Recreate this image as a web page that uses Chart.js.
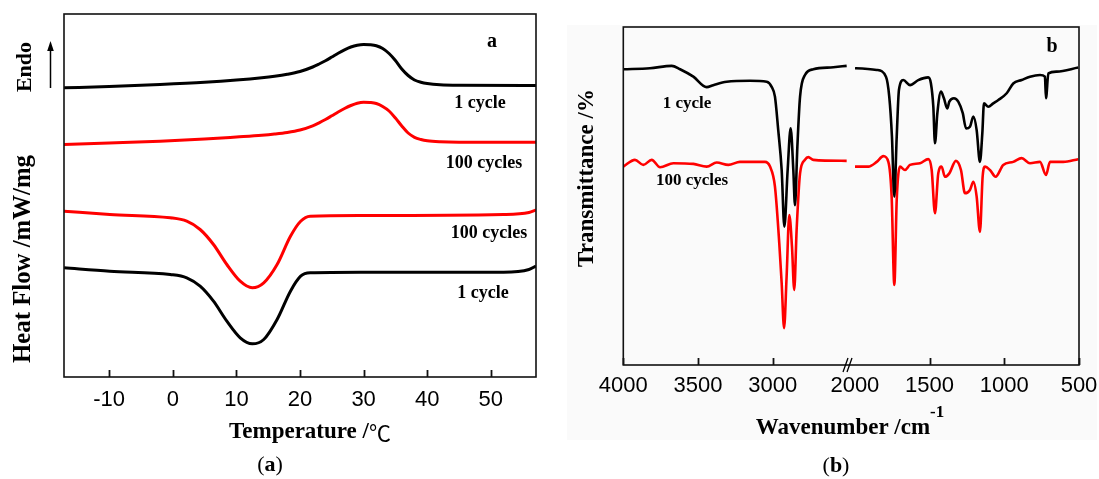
<!DOCTYPE html>
<html>
<head>
<meta charset="utf-8">
<script src="https://cdn.jsdelivr.net/npm/chart.js@4.4.1/dist/chart.umd.min.js"></script>
<style>
  html, body { margin: 0; padding: 0; background: #fff; }
  #wrap { position: relative; width: 1099px; height: 479px; overflow: hidden; }
  canvas { position: absolute; top: 0; }
  #dsc { left: 0; }
  #ftir { left: 560px; }
</style>
</head>
<body>
<div id="wrap">
  <canvas id="dsc" width="560" height="479"></canvas>
  <canvas id="ftir" width="539" height="479"></canvas>
</div>
<script>
// (a) DSC curves, heat flow in arbitrary offset units
const dscTicks = [-10, 0, 10, 20, 30, 40, 50];

const tempHeat = [-17.1, -10, -2, 5, 10, 14, 16, 18, 20, 22, 23, 24, 25, 26, 27, 28, 29, 30, 31, 32, 33, 34, 35, 36, 37, 38, 39, 40, 42, 45, 57.1];
const flowHeat1 = [28.92, 29.05, 29.25, 29.47, 29.69, 29.92, 30.07, 30.27, 30.55, 31.0, 31.3, 31.63, 32.0, 32.38, 32.72, 33.0, 33.18, 33.25, 33.22, 33.12, 32.85, 32.35, 31.65, 30.8, 30.15, 29.7, 29.48, 29.35, 29.22, 29.17, 29.15];
const flowHeat100 = [23.25, 23.4, 23.58, 23.8, 24.0, 24.17, 24.29, 24.45, 24.7, 25.12, 25.42, 25.75, 26.12, 26.5, 26.85, 27.15, 27.38, 27.48, 27.45, 27.35, 27.05, 26.6, 25.9, 25.1, 24.4, 23.97, 23.75, 23.62, 23.52, 23.48, 23.48];

const tempCool = [-17.1, -9.9, -0.4, 2.2, 4.3, 6.4, 8.5, 10.6, 12.5, 14.3, 16.4, 18.5, 20.1, 21.6, 29.5, 52, 56, 57.1];
const flowCool100 = [16.58, 16.25, 15.92, 15.58, 14.75, 13.25, 11.25, 9.58, 8.92, 9.42, 11.25, 14.08, 15.58, 16.08, 16.15, 16.25, 16.45, 16.7];
const flowCool1 = [10.92, 10.58, 10.25, 9.92, 9.08, 7.58, 5.58, 3.92, 3.32, 3.75, 5.75, 8.58, 10.08, 10.42, 10.48, 10.48, 10.75, 11.1];

// (b) FTIR spectra, split at the axis break (2500-2000 cm-1 is cut out)
const ftirTicks = [4000, 3500, 3000, 2000, 1500, 1000, 500];

const waveHigh1 = [4000, 3822, 3676, 3620, 3531, 3442, 3398, 3308, 3152, 3040, 3007, 2985, 2963, 2940, 2922, 2900, 2880, 2862, 2851, 2835, 2817, 2784, 2728, 2594, 2505];
const transHigh1 = [87.5, 87.8, 88.5, 87.5, 85.3, 82.2, 82.8, 83.8, 84.1, 83.8, 82.3, 79.4, 69.5, 57.7, 40.9, 57.7, 70.0, 57.7, 47.3, 64.6, 79.4, 85.8, 87.5, 88.1, 88.5];
const waveLow1 = [1999, 1854, 1792, 1770, 1752, 1736, 1720, 1705, 1676, 1631, 1576, 1509, 1491, 1475, 1464, 1448, 1424, 1404, 1382, 1368, 1337, 1308, 1278, 1256, 1230, 1207, 1185, 1163, 1147, 1136, 1107, 1074, 1040, 984, 940, 884, 828, 761, 728, 721, 705, 649, 505];
const transLow1 = [87.8, 87.3, 85.3, 79.4, 67.6, 49.8, 67.6, 81.4, 84.3, 82.8, 84.3, 85.1, 83.3, 76.4, 65.6, 74.5, 80.9, 78.9, 75.9, 77.9, 78.9, 77.9, 74.5, 70.0, 70.5, 73.5, 69.5, 60.1, 68.6, 77.4, 76.4, 77.4, 78.4, 80.4, 83.3, 84.3, 85.3, 85.8, 85.3, 78.9, 86.3, 86.8, 88.0];

const waveHigh100 = [4000, 3922, 3866, 3810, 3754, 3665, 3531, 3442, 3375, 3297, 3219, 3052, 3018, 2985, 2956, 2940, 2924, 2907, 2889, 2871, 2856, 2840, 2817, 2784, 2762, 2728, 2505];
const transHigh100 = [58.7, 60.7, 59.2, 60.7, 58.5, 59.7, 59.5, 58.7, 59.9, 59.2, 60.1, 60.1, 58.7, 52.8, 36.0, 24.2, 10.9, 26.1, 44.4, 35.0, 22.2, 39.9, 56.7, 60.7, 61.5, 60.7, 60.4];
const waveLow100 = [1999, 1910, 1854, 1810, 1776, 1754, 1736, 1720, 1698, 1665, 1631, 1564, 1509, 1486, 1464, 1442, 1420, 1397, 1368, 1324, 1290, 1263, 1230, 1207, 1185, 1163, 1145, 1129, 1096, 1058, 1007, 940, 884, 828, 761, 721, 694, 605, 505];
const transLow100 = [58.7, 58.7, 60.1, 61.8, 60.1, 49.8, 23.7, 48.8, 58.7, 57.7, 59.2, 59.7, 60.9, 57.7, 44.9, 56.7, 58.7, 55.7, 56.7, 60.4, 57.7, 50.8, 51.8, 54.2, 49.8, 39.4, 55.7, 58.7, 57.7, 55.7, 59.2, 60.1, 61.2, 59.7, 60.1, 56.2, 60.1, 60.1, 60.9];

const SERIF = '"Liberation Serif", "Times New Roman", serif';
const SANS = '"Liberation Sans", Arial, sans-serif';
const CJK = '"Noto Sans CJK SC", "Noto Sans CJK JP", sans-serif';
const RED = '#ff0000';

// wavenumbers above the break slide left by CUT so 2500 sits next to 2000
const CUT = 450;
const axisPos = w => (w >= 2500 ? w - CUT : w);

const pts = (xs, ys) => xs.map((x, i) => ({ x, y: ys[i] }));
const spectrum = (wh, th, wl, tl) =>
  pts(wh.map(axisPos), th).concat([{ x: 2025, y: null }], pts(wl, tl));

const bold = size => `bold ${size}px ${SERIF}`;
const TICK_LEN = 7;

function text(ctx, str, x, y, font, maxWidth) {
  ctx.font = font;
  ctx.textAlign = 'center';
  ctx.textBaseline = 'middle';
  if (maxWidth) ctx.fillText(str, x, y, maxWidth);
  else ctx.fillText(str, x, y);
}

function vtext(ctx, str, x, y, font, maxWidth) {
  ctx.save();
  ctx.translate(x, y);
  ctx.rotate(-Math.PI / 2);
  text(ctx, str, 0, 0, font, maxWidth);
  ctx.restore();
}

// centred run of differently styled pieces: [[text, font, dy], ...]
function runs(ctx, parts, cx, cy) {
  ctx.textAlign = 'left';
  ctx.textBaseline = 'middle';
  const widths = parts.map(([s, f]) => { ctx.font = f; return ctx.measureText(s).width; });
  let x = cx - widths.reduce((a, b) => a + b, 0) / 2;
  parts.forEach(([s, f, dy], i) => {
    ctx.font = f;
    ctx.fillText(s, x, cy + (dy || 0));
    x += widths[i];
  });
}

function caption(ctx, letter, cx, cy) {
  const plain = `22px ${SERIF}`;
  runs(ctx, [['(', plain], [letter, bold(22)], [')', plain]], cx, cy);
}

// box around the plot plus inward tick marks on the bottom axis
function drawFrame(chart, tickValues) {
  const { ctx, chartArea: a } = chart;
  const x = chart.scales.x;
  ctx.save();
  ctx.strokeStyle = '#111';
  ctx.lineWidth = 1.6;
  ctx.strokeRect(a.left, a.top, a.right - a.left, a.bottom - a.top);
  ctx.lineWidth = 1.8;
  tickValues.forEach(v => {
    const px = Math.round(x.getPixelForValue(v)) + 0.5;
    ctx.beginPath();
    ctx.moveTo(px, a.bottom);
    ctx.lineTo(px, a.bottom - TICK_LEN);
    ctx.stroke();
  });
  ctx.restore();
}

const dscNotes = {
  id: 'dscNotes',
  afterDraw(chart) {
    const ctx = chart.ctx;
    drawFrame(chart, dscTicks);
    ctx.save();
    ctx.fillStyle = '#000';
    text(ctx, 'a', 492, 42, bold(20));
    text(ctx, '1 cycle', 480, 103, bold(18));
    text(ctx, '100 cycles', 484, 163, bold(18));
    text(ctx, '100 cycles', 489, 233, bold(18));
    text(ctx, '1 cycle', 483, 293, bold(18));
    vtext(ctx, 'Endo', 25, 67, bold(22));
    vtext(ctx, 'Heat Flow /mW/mg', 24, 259, bold(25), 208);
    // Endo arrow
    ctx.strokeStyle = '#000';
    ctx.lineWidth = 1.5;
    ctx.beginPath(); ctx.moveTo(50.5, 88); ctx.lineTo(50.5, 48); ctx.stroke();
    ctx.beginPath(); ctx.moveTo(50.5, 41); ctx.lineTo(47.2, 51); ctx.lineTo(53.8, 51); ctx.closePath(); ctx.fill();
    runs(ctx, [['Temperature /', bold(23)], ['℃', `22px ${CJK}`, 1]], 310, 432);
    caption(ctx, 'a', 270, 465);
    ctx.restore();
  }
};

const ftirNotes = {
  id: 'ftirNotes',
  beforeDraw(chart) {
    const ctx = chart.ctx;
    ctx.save();
    ctx.fillStyle = '#fafafa';
    ctx.fillRect(7, 25, 530, 415);
    ctx.restore();
  },
  afterDraw(chart) {
    const ctx = chart.ctx;
    const a = chart.chartArea;
    // no tick at the break itself
    drawFrame(chart, ftirTicks.filter(w => w !== 2000).map(axisPos));
    ctx.save();
    ctx.fillStyle = '#000';
    text(ctx, 'b', 492, 47, bold(20));
    text(ctx, '1 cycle', 127, 104, bold(17));
    text(ctx, '100 cycles', 132, 181, bold(17));
    vtext(ctx, 'Transmittance /%', 27, 178, bold(23));
    runs(ctx, [['Wavenumber /cm', bold(23)], ['-1', bold(17), -15]], 290, 428);
    caption(ctx, 'b', 276, 466);
    // axis break marks
    ctx.strokeStyle = '#000';
    ctx.lineWidth = 1.3;
    ctx.beginPath();
    ctx.moveTo(283, a.bottom + 7); ctx.lineTo(288, a.bottom - 7);
    ctx.moveTo(287, a.bottom + 7); ctx.lineTo(292, a.bottom - 7);
    ctx.stroke();
    ctx.restore();
  }
};

const line = (data, color) => ({ data, borderColor: color, backgroundColor: color, fill: false });

const noPad = s => { s.paddingLeft = 0; s.paddingRight = 0; };

const baseOptions = {
  responsive: false,
  animation: false,
  devicePixelRatio: 1,
  events: []
};

new Chart(document.getElementById('dsc'), {
  type: 'line',
  data: {
    datasets: [
      line(pts(tempHeat, flowHeat1), '#000'),
      line(pts(tempCool, flowCool1), '#000'),
      line(pts(tempHeat, flowHeat100), RED),
      line(pts(tempCool, flowCool100), RED)
    ]
  },
  options: {
    ...baseOptions,
    elements: {
      point: { radius: 0, hoverRadius: 0 },
      line: { borderWidth: 3, cubicInterpolationMode: 'monotone' }
    },
    layout: { padding: { top: 14, right: 24, left: 0, bottom: 0 } },
    plugins: { legend: { display: false }, tooltip: { enabled: false } },
    scales: {
      x: {
        type: 'linear', min: -17.1, max: 57.1,
        afterBuildTicks: s => { s.ticks = dscTicks.map(v => ({ value: v })); },
        afterFit: s => { s.height = 102; noPad(s); },
        grid: { display: false, drawTicks: false },
        border: { display: false },
        ticks: { font: { family: SANS, size: 22 }, color: '#000', padding: 10, maxRotation: 0, autoSkip: false }
      },
      y: {
        min: 0, max: 36.3,
        afterFit: s => { s.width = 64; },
        grid: { display: false, drawTicks: false },
        border: { display: false },
        ticks: { display: false }
      }
    }
  },
  plugins: [dscNotes]
});

new Chart(document.getElementById('ftir'), {
  type: 'line',
  data: {
    datasets: [
      line(spectrum(waveHigh1, transHigh1, waveLow1, transLow1), '#000'),
      line(spectrum(waveHigh100, transHigh100, waveLow100, transLow100), RED)
    ]
  },
  options: {
    ...baseOptions,
    elements: {
      point: { radius: 0, hoverRadius: 0 },
      line: { borderWidth: 2.6, cubicInterpolationMode: 'monotone' }
    },
    spanGaps: false,
    layout: { padding: { top: 27, right: 20, left: 0, bottom: 0 } },
    plugins: { legend: { display: false }, tooltip: { enabled: false } },
    scales: {
      x: {
        type: 'linear', reverse: true, min: 500, max: 4000 - CUT,
        afterBuildTicks: s => { s.ticks = ftirTicks.map(w => ({ value: axisPos(w) })); },
        afterFit: s => { s.height = 114; noPad(s); },
        grid: { display: false, drawTicks: false },
        border: { display: false },
        ticks: {
          font: { family: SANS, size: 22 }, color: '#000', padding: 8, maxRotation: 0, autoSkip: false,
          callback: v => (v > 2025 ? v + CUT : v)
        }
      },
      y: {
        min: 0, max: 100,
        afterFit: s => { s.width = 63.3; },
        grid: { display: false, drawTicks: false },
        border: { display: false },
        ticks: { display: false }
      }
    }
  },
  plugins: [ftirNotes]
});
</script>
</body>
</html>
